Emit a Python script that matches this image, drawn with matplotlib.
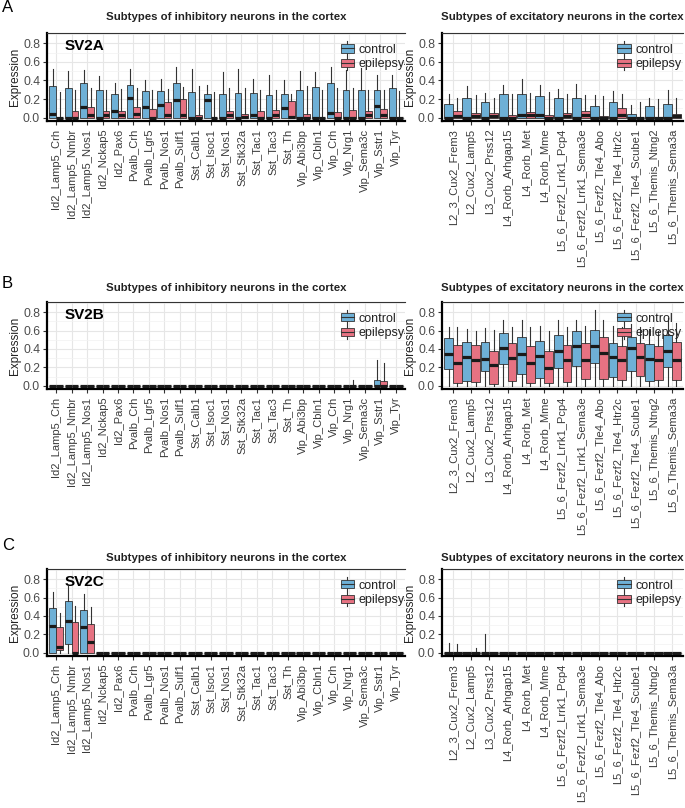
import matplotlib
matplotlib.use('Agg')
import matplotlib.pyplot as plt
from matplotlib.patches import Rectangle
from matplotlib.lines import Line2D
from matplotlib.legend_handler import HandlerBase

plt.rcParams['font.family'] = ['Liberation Sans', 'DejaVu Sans']

# ---------------- data ----------------
INH = ['Id2_Lamp5_Crh', 'Id2_Lamp5_Nmbr', 'Id2_Lamp5_Nos1', 'Id2_Nckap5', 'Id2_Pax6',
       'Pvalb_Crh', 'Pvalb_Lgr5', 'Pvalb_Nos1', 'Pvalb_Sulf1', 'Sst_Calb1', 'Sst_Isoc1',
       'Sst_Nos1', 'Sst_Stk32a', 'Sst_Tac1', 'Sst_Tac3', 'Sst_Th', 'Vip_Abi3bp',
       'Vip_Cbln1', 'Vip_Crh', 'Vip_Nrg1', 'Vip_Sema3c', 'Vip_Sstr1', 'Vip_Tyr']
EXC = ['L2_3_Cux2_Frem3', 'L2_Cux2_Lamp5', 'L3_Cux2_Prss12', 'L4_Rorb_Arhgap15',
       'L4_Rorb_Met', 'L4_Rorb_Mme', 'L5_6_Fezf2_Lrrk1_Pcp4', 'L5_6_Fezf2_Lrrk1_Sema3e',
       'L5_6_Fezf2_Tle4_Abo', 'L5_6_Fezf2_Tle4_Htr2c', 'L5_6_Fezf2_Tle4_Scube1',
       'L5_6_Themis_Ntng2', 'L5_6_Themis_Sema3a']
GROUPS = ['control', 'epilepsy']

# SV2A inhibitory
SV2A_INH_CTRL_Q1 = [0.0] * 23
SV2A_INH_CTRL_MED = [0.04, 0.0, 0.12, 0.0, 0.07, 0.21, 0.12, 0.14, 0.19, 0.0, 0.19, 0.0,
                     0.0, 0.03, 0.0, 0.10, 0.0, 0.0, 0.05, 0.0, 0.0, 0.13, 0.0]
SV2A_INH_CTRL_Q3 = [0.34, 0.32, 0.37, 0.30, 0.26, 0.35, 0.29, 0.29, 0.37, 0.28, 0.26, 0.25,
                    0.27, 0.27, 0.24, 0.26, 0.30, 0.33, 0.37, 0.30, 0.30, 0.30, 0.32]
SV2A_INH_CTRL_HI = [0.52, 0.50, 0.51, 0.45, 0.37, 0.52, 0.41, 0.42, 0.55, 0.52, 0.35, 0.49,
                    0.52, 0.42, 0.46, 0.41, 0.50, 0.49, 0.55, 0.51, 0.53, 0.46, 0.46]
SV2A_INH_EPI_Q1 = [0.0] * 23
SV2A_INH_EPI_MED = [0.0, 0.0, 0.03, 0.03, 0.03, 0.04, 0.0, 0.03, 0.03, 0.0, 0.0, 0.03,
                    0.01, 0.0, 0.03, 0.01, 0.0, 0.0, 0.0, 0.0, 0.03, 0.03, 0.0]
SV2A_INH_EPI_Q3 = [0.0, 0.07, 0.12, 0.07, 0.07, 0.12, 0.09, 0.165, 0.20, 0.03, 0.0, 0.07,
                   0.04, 0.07, 0.08, 0.18, 0.04, 0.0, 0.06, 0.08, 0.07, 0.09, 0.0]
SV2A_INH_EPI_HI = [0.28, 0.30, 0.32, 0.30, 0.31, 0.32, 0.30, 0.31, 0.33, 0.34, 0.28, 0.32,
                   0.32, 0.30, 0.30, 0.26, 0.34, 0.30, 0.32, 0.32, 0.30, 0.30, 0.29]

# SV2A excitatory
SV2A_EXC_CTRL_Q1 = [0.0] * 13
SV2A_EXC_CTRL_MED = [0.0, 0.0, 0.0, 0.0, 0.03, 0.03, 0.0, 0.0, 0.0, 0.0, 0.0, 0.0, 0.0]
SV2A_EXC_CTRL_Q3 = [0.15, 0.21, 0.17, 0.25, 0.26, 0.23, 0.21, 0.21, 0.13, 0.17, 0.04, 0.13, 0.15]
SV2A_EXC_CTRL_HI = [0.25, 0.34, 0.27, 0.35, 0.42, 0.35, 0.31, 0.36, 0.24, 0.29, 0.14, 0.21, 0.30]
SV2A_EXC_EPI_Q1 = [0.0] * 13
SV2A_EXC_EPI_MED = [0.02, 0.02, 0.02, 0.0, 0.03, 0.0, 0.02, 0.03, 0.0, 0.03, 0.0, 0.0, 0.02]
SV2A_EXC_EPI_Q3 = [0.07, 0.05, 0.05, 0.03, 0.06, 0.03, 0.05, 0.07, 0.02, 0.10, 0.0, 0.0, 0.04]
SV2A_EXC_EPI_HI = [0.21, 0.24, 0.21, 0.25, 0.27, 0.28, 0.25, 0.24, 0.23, 0.26, 0.165, 0.20, 0.21]

# SV2B inhibitory
SV2B_INH_CTRL_Q1 = [0.0] * 23
SV2B_INH_CTRL_MED = [0.0] * 23
SV2B_INH_CTRL_Q3 = [0, 0, 0, 0, 0, 0, 0, 0, 0, 0, 0, 0, 0, 0, 0, 0, 0, 0, 0, 0, 0, 0.06, 0]
SV2B_INH_CTRL_HI = [0, 0, 0, 0, 0, 0, 0, 0, 0, 0, 0, 0, 0, 0, 0, 0, 0, 0, 0, 0, 0, 0.285, 0]
SV2B_INH_EPI_Q1 = [0.0] * 23
SV2B_INH_EPI_MED = [0.0] * 23
SV2B_INH_EPI_Q3 = [0, 0, 0, 0, 0, 0, 0, 0, 0, 0, 0, 0, 0, 0, 0, 0, 0, 0, 0, 0, 0, 0.05, 0]
SV2B_INH_EPI_HI = [0, 0, 0, 0, 0, 0, 0, 0, 0, 0, 0, 0, 0, 0, 0, 0, 0, 0, 0, 0.065, 0, 0.245, 0]

# SV2B excitatory
SV2B_EXC_CTRL_Q1 = [0.18, 0.05, 0.16, 0.24, 0.13, 0.08, 0.195, 0.22, 0.25, 0.10, 0.16, 0.05, 0.20]
SV2B_EXC_CTRL_MED = [0.34, 0.31, 0.29, 0.41, 0.34, 0.32, 0.375, 0.435, 0.435, 0.31, 0.41, 0.29, 0.38]
SV2B_EXC_CTRL_Q3 = [0.52, 0.475, 0.475, 0.575, 0.535, 0.49, 0.555, 0.595, 0.61, 0.465, 0.535, 0.455, 0.555]
SV2B_EXC_CTRL_HI = [0.64, 0.62, 0.63, 0.71, 0.71, 0.65, 0.71, 0.71, 0.82, 0.65, 0.67, 0.62, 0.735]
SV2B_EXC_EPI_Q1 = [0.03, 0.04, 0.02, 0.05, 0.03, 0.03, 0.04, 0.07, 0.07, 0.06, 0.11, 0.06, 0.06]
SV2B_EXC_EPI_MED = [0.25, 0.28, 0.23, 0.30, 0.25, 0.19, 0.28, 0.285, 0.36, 0.28, 0.315, 0.28, 0.285]
SV2B_EXC_EPI_Q3 = [0.44, 0.44, 0.375, 0.46, 0.43, 0.375, 0.44, 0.465, 0.535, 0.43, 0.465, 0.43, 0.48]
SV2B_EXC_EPI_HI = [0.64, 0.60, 0.61, 0.64, 0.64, 0.60, 0.64, 0.65, 0.71, 0.64, 0.64, 0.60, 0.68]

# SV2C inhibitory
SV2C_INH_CTRL_Q1 = [0.0, 0.09, 0.0] + [0.0] * 20
SV2C_INH_CTRL_MED = [0.29, 0.35, 0.28] + [0.0] * 20
SV2C_INH_CTRL_Q3 = [0.485, 0.565, 0.46] + [0.0] * 20
SV2C_INH_CTRL_HI = [0.655, 0.73, 0.64] + [0.0] * 20
SV2C_INH_EPI_Q1 = [0.03, 0.0, 0.0] + [0.0] * 20
SV2C_INH_EPI_MED = [0.065, 0.0, 0.12] + [0.0] * 20
SV2C_INH_EPI_Q3 = [0.28, 0.335, 0.315] + [0.0] * 20
SV2C_INH_EPI_HI = [0.43, 0.51, 0.50] + [0.0] * 20

# SV2C excitatory
SV2C_EXC_CTRL_Q1 = [0.0] * 13
SV2C_EXC_CTRL_MED = [0.0] * 13
SV2C_EXC_CTRL_Q3 = [0.0] * 13
SV2C_EXC_CTRL_HI = [0.105, 0.0, 0.20, 0, 0, 0, 0, 0, 0, 0, 0, 0, 0]
SV2C_EXC_EPI_Q1 = [0.0] * 13
SV2C_EXC_EPI_MED = [0.0] * 13
SV2C_EXC_EPI_Q3 = [0.0] * 13
SV2C_EXC_EPI_HI = [0.09, 0.055, 0.0, 0, 0, 0, 0, 0, 0, 0, 0, 0, 0]

GENES = ['SV2A', 'SV2B', 'SV2C']
LETTERS = ['A', 'B', 'C']
YTICKS = [0.0, 0.2, 0.4, 0.6, 0.8]

CTRL_COLOR = '#6EB0D6'
EPI_COLOR = '#E67282'

# ---------------- layout ----------------
W, H = 685, 808
fig = plt.figure(figsize=(W / 100, H / 100), dpi=100)


def add_ax(x0, x1, y0, y1):
    return fig.add_axes([x0 / W, 1 - y1 / H, (x1 - x0) / W, (y1 - y0) / H])


class BoxKey(HandlerBase):
    def create_artists(self, legend, orig, xd, yd, w, h, fs, trans):
        x0, y0 = -xd, -yd
        cx = x0 + w / 2
        wl = Line2D([cx, cx], [y0 - 0.35 * h, y0 + 1.35 * h], color='#333333', lw=0.8,
                    transform=trans)
        r = Rectangle((x0, y0), w, h, facecolor=orig.get_facecolor(), edgecolor='#333333',
                      lw=0.6, transform=trans)
        m = Line2D([x0, x0 + w], [y0 + h / 2] * 2, color='#333333', lw=0.8, transform=trans)
        return [wl, r, m]


def panel(ax, cats, ctrl, epi, gene, width, label_x):
    n = len(cats)
    handles = []
    for grp, off, color in [(ctrl, -width / 2, CTRL_COLOR), (epi, width / 2, EPI_COLOR)]:
        q1, med, q3, hi = grp
        stats = [dict(whislo=0.0, q1=a, med=b, q3=c, whishi=d)
                 for a, b, c, d in zip(q1, med, q3, hi)]
        ax.bxp(stats, positions=[i + off for i in range(n)], widths=width,
               patch_artist=True, showfliers=False, showcaps=False, manage_ticks=False,
               boxprops=dict(facecolor=color, edgecolor='#333333', linewidth=0.6),
               medianprops=dict(color='#1a1a1a', linewidth=2.3, solid_capstyle='butt'),
               whiskerprops=dict(color='#333333', linewidth=0.8))
        handles.append(Rectangle((0, 0), 1, 1, facecolor=color))
    ax.set_xlim(-0.6, n - 0.4)
    ax.set_ylim(-0.035, 0.91)
    ax.set_yticks(YTICKS)
    ax.set_yticklabels(['%.1f' % v for v in YTICKS])
    ax.set_yticks([0.1, 0.3, 0.5, 0.7, 0.9], minor=True)
    ax.set_xticks(range(n))
    ax.set_xticklabels(cats, rotation=90, fontsize=8, color='#3a3a3a')
    ax.grid(which='major', color='#E6E6E6', lw=0.8)
    ax.grid(which='minor', axis='y', color='#F2F2F2', lw=0.5)
    ax.set_axisbelow(True)
    ax.tick_params(axis='y', which='major', labelsize=8.8, labelcolor='#4D4D4D',
                   color='#333333', length=3, width=0.8, pad=2)
    ax.tick_params(axis='x', which='major', color='#333333', length=3, width=0.8, pad=2.5)
    ax.tick_params(which='minor', length=0)
    for s in ['left', 'bottom']:
        ax.spines[s].set_linewidth(1.6)
        ax.spines[s].set_color('black')
    ax.spines['top'].set_linewidth(0.8)
    ax.spines['top'].set_color('#333333')
    ax.spines['right'].set_visible(False)
    ax.set_ylabel('Expression', fontsize=8.5, color='#222222', va='center')
    ax.yaxis.set_label_coords(label_x, 0.5)
    ax.text(0.05, 0.85, gene, transform=ax.transAxes, fontsize=11, fontweight='bold',
            ha='left', va='center', color='black')
    ax.legend(handles, GROUPS, handler_map={Rectangle: BoxKey()}, loc='upper right',
              bbox_to_anchor=(1.01, 0.92), frameon=False, fontsize=9, handlelength=1.05,
              handleheight=0.65, handletextpad=0.4, labelspacing=0.2, borderpad=0.2,
              borderaxespad=0.1, labelcolor='#222222')


DATA = {
    'SV2A': ((SV2A_INH_CTRL_Q1, SV2A_INH_CTRL_MED, SV2A_INH_CTRL_Q3, SV2A_INH_CTRL_HI),
             (SV2A_INH_EPI_Q1, SV2A_INH_EPI_MED, SV2A_INH_EPI_Q3, SV2A_INH_EPI_HI),
             (SV2A_EXC_CTRL_Q1, SV2A_EXC_CTRL_MED, SV2A_EXC_CTRL_Q3, SV2A_EXC_CTRL_HI),
             (SV2A_EXC_EPI_Q1, SV2A_EXC_EPI_MED, SV2A_EXC_EPI_Q3, SV2A_EXC_EPI_HI)),
    'SV2B': ((SV2B_INH_CTRL_Q1, SV2B_INH_CTRL_MED, SV2B_INH_CTRL_Q3, SV2B_INH_CTRL_HI),
             (SV2B_INH_EPI_Q1, SV2B_INH_EPI_MED, SV2B_INH_EPI_Q3, SV2B_INH_EPI_HI),
             (SV2B_EXC_CTRL_Q1, SV2B_EXC_CTRL_MED, SV2B_EXC_CTRL_Q3, SV2B_EXC_CTRL_HI),
             (SV2B_EXC_EPI_Q1, SV2B_EXC_EPI_MED, SV2B_EXC_EPI_Q3, SV2B_EXC_EPI_HI)),
    'SV2C': ((SV2C_INH_CTRL_Q1, SV2C_INH_CTRL_MED, SV2C_INH_CTRL_Q3, SV2C_INH_CTRL_HI),
             (SV2C_INH_EPI_Q1, SV2C_INH_EPI_MED, SV2C_INH_EPI_Q3, SV2C_INH_EPI_HI),
             (SV2C_EXC_CTRL_Q1, SV2C_EXC_CTRL_MED, SV2C_EXC_CTRL_Q3, SV2C_EXC_CTRL_HI),
             (SV2C_EXC_EPI_Q1, SV2C_EXC_EPI_MED, SV2C_EXC_EPI_Q3, SV2C_EXC_EPI_HI)),
}

ROWS = [(33, 121, 17, 8), (302, 389, 288, 284), (569, 656, 558, 545)]
LX = (47, 405)
RX = (442, 683)

for gene, letter, (y0, y1, ty, ly) in zip(GENES, LETTERS, ROWS):
    ic, ie, ec, ee = DATA[gene]
    axl = add_ax(LX[0], LX[1], y0, y1)
    panel(axl, INH, ic, ie, gene, 0.44, (15 - LX[0]) / (LX[1] - LX[0]))
    axr = add_ax(RX[0], RX[1], y0, y1)
    panel(axr, EXC, ec, ee, '', 0.48, (410 - RX[0]) / (RX[1] - RX[0]))
    fig.text((LX[0] + LX[1]) / 2 / W, 1 - ty / H, 'Subtypes of inhibitory neurons in the cortex',
             ha='center', va='center', fontsize=8.2, fontweight='bold', color='#222222')
    fig.text((RX[0] + RX[1]) / 2 / W, 1 - ty / H, 'Subtypes of excitatory neurons in the cortex',
             ha='center', va='center', fontsize=8.2, fontweight='bold', color='#222222')
    fig.text(2 / W, 1 - ly / H, letter, ha='left', va='center', fontsize=12, color='black')

fig.savefig('out.png', dpi=100, facecolor='white')
